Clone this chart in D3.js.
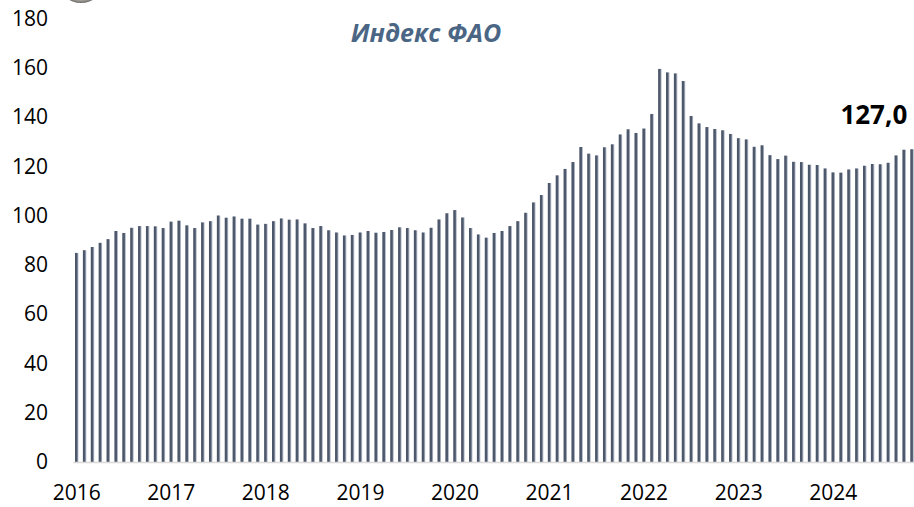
<!DOCTYPE html>
<html>
<head>
<meta charset="utf-8">
<script src="https://cdn.jsdelivr.net/npm/d3@7"></script>
<style>
  body { margin: 0; background: #fff; }
  svg { display: block; font-family: "Open Sans", sans-serif; }
</style>
</head>
<body>
<svg id="chart"></svg>
<script>
const WIDTH = 914;
const HEIGHT = 507;

// FAO food price index, monthly, Jan 2016 .. Nov 2024
const years = [2016, 2017, 2018, 2019, 2020, 2021, 2022, 2023, 2024];
const values = [
  84.9, 86.0, 87.3, 89.0, 90.5, 93.8, 93.0, 95.1, 95.8, 95.8, 95.7, 95.0,
  97.6, 98.0, 96.1, 95.0, 97.3, 97.8, 100.1, 99.2, 99.7, 98.8, 98.8, 96.4,
  96.7, 97.8, 98.9, 98.4, 98.5, 96.9, 95.0, 95.8, 94.1, 93.2, 92.0, 92.2,
  93.2, 93.8, 93.1, 93.4, 94.2, 95.3, 95.0, 94.1, 93.2, 95.1, 98.5, 101.0,
  102.3, 99.3, 95.0, 92.4, 91.1, 93.0, 93.8, 95.8, 97.8, 101.2, 105.4, 108.4,
  113.3, 116.4, 119.0, 121.8, 127.9, 125.2, 124.5, 127.8, 129.0, 133.0, 135.1, 133.6,
  135.4, 141.3, 159.6, 158.2, 157.8, 154.7, 140.5, 137.5, 136.0, 135.2, 134.7, 133.2,
  131.5, 131.0, 128.0, 128.6, 124.6, 123.0, 124.4, 121.9, 121.8, 120.7, 120.6, 119.2,
  117.6, 117.5, 118.8, 119.2, 120.3, 121.0, 120.9, 121.5, 124.5, 126.8, 127.0
];
const months = values.map((v, i) => `${years[0] + Math.floor(i / 12)}-${String(i % 12 + 1).padStart(2, "0")}`);
const lastLabel = "127,0";
const title = "Индекс ФАО";

const svg = d3.select("#chart").attr("width", WIDTH).attr("height", HEIGHT);

const defs = svg.append("defs");
const grad = defs.append("linearGradient").attr("id", "barGrad")
  .attr("x1", "0").attr("x2", "1").attr("y1", "0").attr("y2", "0");
grad.append("stop").attr("offset", "0%").attr("stop-color", "#4a5467");
grad.append("stop").attr("offset", "62%").attr("stop-color", "#515b6f");
grad.append("stop").attr("offset", "74%").attr("stop-color", "#8a93a4");
grad.append("stop").attr("offset", "100%").attr("stop-color", "#b9c0cc");

const logoGrad = defs.append("radialGradient").attr("id", "logoGrad");
logoGrad.append("stop").attr("offset", "70%").attr("stop-color", "#e8e6e2");
logoGrad.append("stop").attr("offset", "100%").attr("stop-color", "#6d6a66");

// cropped logo at the top
svg.append("ellipse")
  .attr("cx", 81).attr("cy", -17).attr("rx", 22).attr("ry", 20)
  .attr("fill", "url(#logoGrad)");

const x = d3.scaleBand()
  .domain(months)
  .range([72.8, 72.8 + 7.88 * 107])
  .paddingInner(0.56)
  .paddingOuter(0.28);

const y = d3.scaleLinear().domain([0, 180]).range([462, 18.7]);

// bars
svg.append("g")
  .selectAll("rect")
  .data(values)
  .join("rect")
  .attr("x", (d, i) => x(months[i]))
  .attr("y", d => y(d))
  .attr("width", x.bandwidth())
  .attr("height", d => y(0) - y(d))
  .attr("fill", "url(#barGrad)");

// y axis
const yAxis = svg.append("g")
  .attr("transform", "translate(48,0)")
  .call(d3.axisLeft(y).tickValues(d3.range(0, 181, 20)).tickSize(0).tickPadding(0));
yAxis.select(".domain").remove();
yAxis.selectAll("text")
  .attr("font-family", "Open Sans, sans-serif")
  .attr("font-size", 21)
  .attr("fill", "#000");

// x axis
const xAxis = svg.append("g")
  .attr("transform", `translate(0,${y(0)})`)
  .call(d3.axisBottom(x)
    .tickValues(years.map(yr => `${yr}-01`))
    .tickFormat(d => d.slice(0, 4))
    .tickSize(0)
    .tickPadding(23));
xAxis.select(".domain")
  .attr("stroke", "#d9d9d9")
  .attr("stroke-width", 1.5);
xAxis.selectAll("text")
  .attr("font-family", "Open Sans, sans-serif")
  .attr("font-size", 21)
  .attr("fill", "#000");

// title
svg.append("text")
  .attr("x", 426)
  .attr("y", 42)
  .attr("text-anchor", "middle")
  .attr("font-size", 25)
  .attr("font-weight", "bold")
  .attr("font-style", "italic")
  .attr("fill", "#4a6684")
  .text(title);

// last value label
const lastIdx = values.length - 1;
svg.append("text")
  .attr("x", x(months[lastIdx]) - 3)
  .attr("y", 124)
  .attr("text-anchor", "end")
  .attr("font-size", 26)
  .attr("font-weight", "bold")
  .attr("fill", "#000")
  .text(lastLabel);
</script>
</body>
</html>
